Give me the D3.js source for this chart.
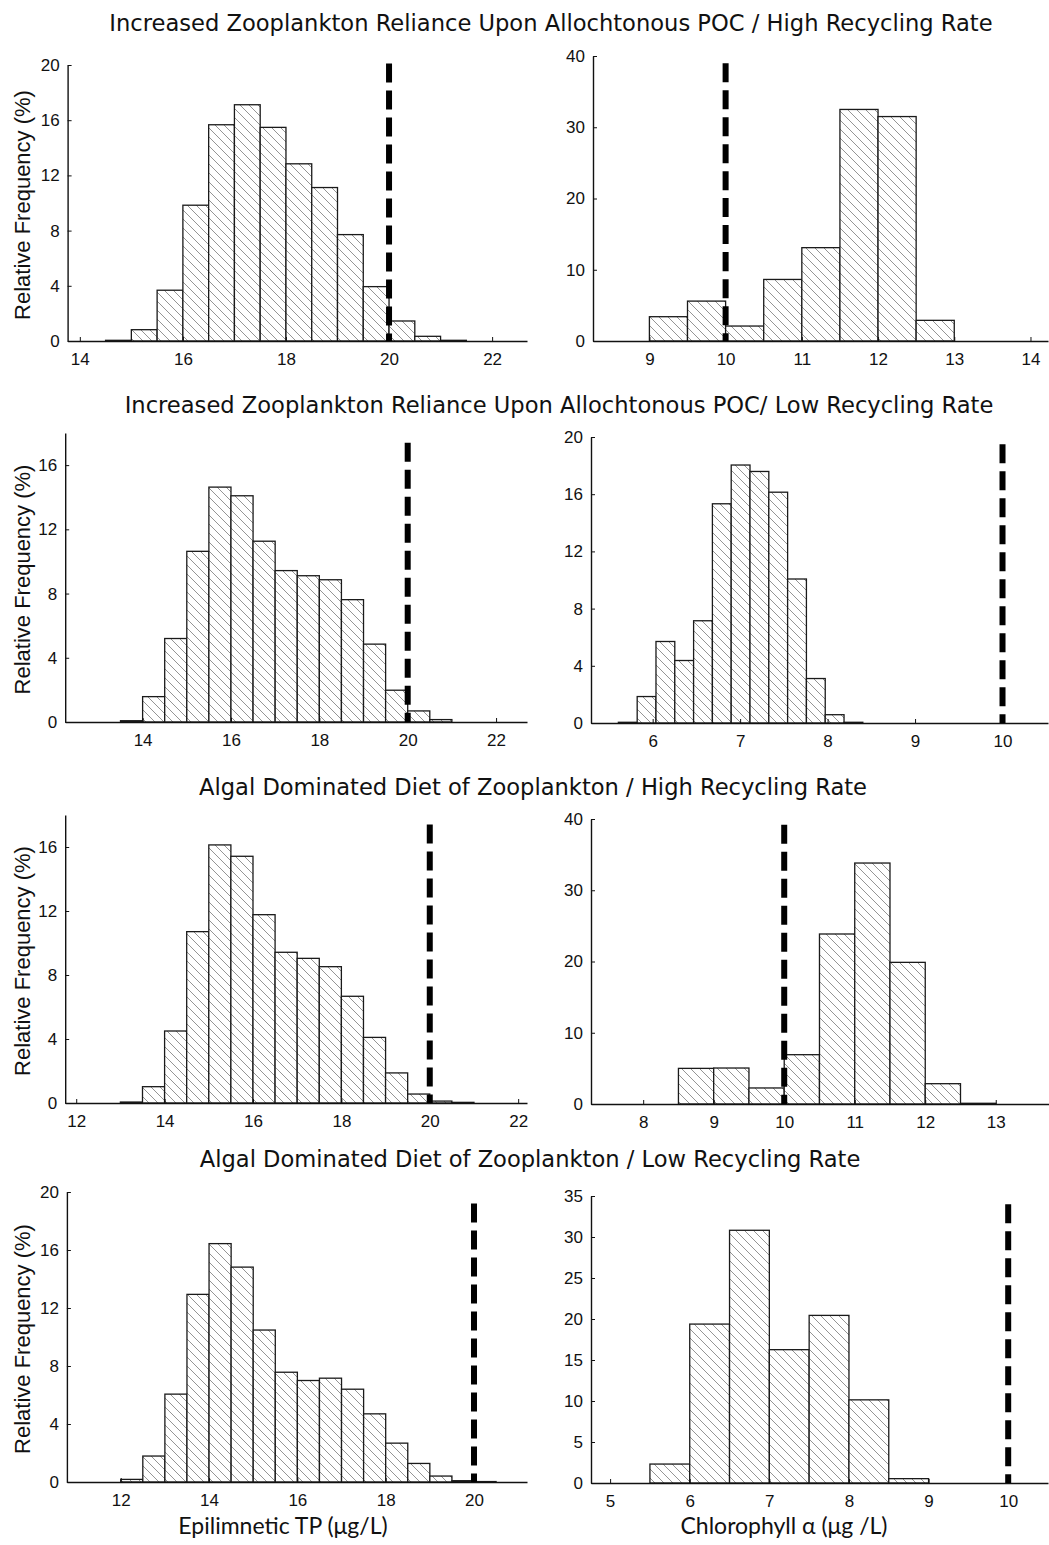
<!DOCTYPE html>
<html>
<head>
<meta charset="utf-8">
<script src="https://cdn.jsdelivr.net/npm/d3@7"></script>
<style>
  body { margin: 0; background: #fff; }
</style>
</head>
<body>
<div id="chart"></div>
<script>
// ---- data ----
const titles = [
  "Increased Zooplankton Reliance Upon Allochtonous POC / High Recycling Rate",
  "Increased Zooplankton Reliance Upon Allochtonous POC/ Low Recycling Rate",
  "Algal Dominated Diet of Zooplankton / High Recycling Rate",
  "Algal Dominated Diet of Zooplankton / Low Recycling Rate",
];
const xLabels = ["Epilimnetic TP (\u03bcg/L)", "Chlorophyll \u03b1 (\u03bcg /L)"];
const yLabel = "Relative Frequency (%)";

// relative frequency (%) per bin, bins start at binStart and are binWidth wide
const tpFreq1 = [0.05, 0.82, 3.68, 9.84, 15.67, 17.12, 15.48, 12.84, 11.12, 7.71, 3.94, 1.45, 0.34, 0.05];
const chlFreq1 = [3.41, 5.6, 2.1, 8.64, 13.1, 32.5, 31.5, 2.9];
const tpFreq2 = [0.08, 1.58, 5.2, 10.63, 14.63, 14.09, 11.26, 9.43, 9.11, 8.86, 7.62, 4.85, 1.98, 0.69, 0.15];
const chlFreq2 = [0.05, 1.85, 5.7, 4.37, 7.15, 15.33, 18.04, 17.59, 16.14, 10.07, 3.11, 0.58, 0.05];
const tpFreq3 = [0.06, 1.02, 4.5, 10.71, 16.13, 15.42, 11.77, 9.42, 9.04, 8.52, 6.67, 4.1, 1.88, 0.56, 0.12, 0.04];
const chlFreq3 = [5.0, 5.05, 2.25, 6.92, 23.86, 33.82, 19.88, 2.85, 0.1];
const tpFreq4 = [0.18, 1.79, 6.06, 12.94, 16.44, 14.82, 10.48, 7.57, 7.0, 7.16, 6.4, 4.7, 2.68, 1.28, 0.41, 0.09, 0.03];
const chlFreq4 = [2.31, 19.38, 30.82, 16.26, 20.44, 10.14, 0.53];

const binStart = [14.5, 9, 13.5, 5.608, 13, 8.5, 12, 5.5];
const binWidth = [0.5, 0.5, 0.5, 0.215, 0.5, 0.5, 0.5, 0.5];

// target concentrations (dashed lines) and how high each line reaches
const thresholds = [20, 10, 20, 10, 20, 10, 20, 10];
const lineTop = [20.1, 39, 17.4, 19.5, 17.4, 39.2, 19.2, 34];

// axis limits and ticks
const xLimits = [[13.763, 22.677], [8.26, 14.23], [12.248, 22.70], [5.295, 10.52],
                 [11.751, 22.20], [7.26, 13.755], [10.781, 21.20], [4.76, 10.5]];
const yMax = [20, 40, 18, 20, 18, 40, 20, 35];
const xTicks = [
  [14, 16, 18, 20, 22], [9, 10, 11, 12, 13, 14],
  [14, 16, 18, 20, 22], [6, 7, 8, 9, 10],
  [12, 14, 16, 18, 20, 22], [8, 9, 10, 11, 12, 13],
  [12, 14, 16, 18, 20], [5, 6, 7, 8, 9, 10],
];
const yTicks = [
  [0, 4, 8, 12, 16, 20], [0, 10, 20, 30, 40],
  [0, 4, 8, 12, 16], [0, 4, 8, 12, 16, 20],
  [0, 4, 8, 12, 16], [0, 10, 20, 30, 40],
  [0, 4, 8, 12, 16, 20], [0, 5, 10, 15, 20, 25, 30, 35],
];
const freqs = [tpFreq1, chlFreq1, tpFreq2, chlFreq2, tpFreq3, chlFreq3, tpFreq4, chlFreq4];

// ---- layout ----
const width = 1049, height = 1545;
const xRanges = [[67.6, 527], [593, 1048], [65.2, 527], [591, 1048],
                 [65.2, 527], [591, 1049], [66.9, 527], [591, 1048]];
const yRanges = [[341, 65], [341, 56], [722, 433], [723, 437],
                 [1103, 815], [1104, 819], [1482, 1192], [1483, 1196]];
const titlePos = [[551, 31], [559, 413], [533, 795], [530, 1167]];
const xLabelPos = [[283, 1534], [784, 1534]];
const tickFont = "'Liberation Sans', Arial, sans-serif";

const svg = d3.select("#chart")
  .append("svg")
  .attr("width", width)
  .attr("height", height);

/* diagonal hatch used for every bar */
const pattern = svg.append("defs")
  .append("pattern")
  .attr("id", "hatch")
  .attr("patternUnits", "userSpaceOnUse")
  .attr("width", 9)
  .attr("height", 9);
pattern.append("rect").attr("width", 9).attr("height", 9).attr("fill", "#fff");
pattern.append("path")
  .attr("d", "M0,0L9,9M-1,8L1,10M8,-1L10,1")
  .attr("stroke", "#7a7a7a")
  .attr("stroke-width", 0.8);

titles.forEach((t, i) => {
  svg.append("text")
    .attr("x", titlePos[i][0])
    .attr("y", titlePos[i][1])
    .attr("text-anchor", "middle")
    .style("font-family", "'DejaVu Sans', sans-serif")
    .style("font-size", "22.6px")
    .attr("fill", "#111")
    .text(t);
});

function styleAxis(a) {
  a.select(".domain").attr("stroke", "#111").attr("stroke-width", 1.4);
  a.selectAll(".tick line").attr("stroke", "#111");
  a.selectAll("text")
    .style("font-family", tickFont)
    .style("font-size", "17px")
    .attr("fill", "#111");
}

freqs.forEach((freq, i) => {
  const x = d3.scaleLinear().domain(xLimits[i]).range(xRanges[i]);
  const y = d3.scaleLinear().domain([0, yMax[i]]).range(yRanges[i]);
  const g = svg.append("g");

  const bins = freq.map((v, k) => ({
    x0: binStart[i] + k * binWidth[i],
    x1: binStart[i] + (k + 1) * binWidth[i],
    v,
  }));

  g.append("g")
    .selectAll("rect")
    .data(bins)
    .join("rect")
    .attr("x", (d) => x(d.x0))
    .attr("width", (d) => x(d.x1) - x(d.x0))
    .attr("y", (d) => y(d.v))
    .attr("height", (d) => y(0) - y(d.v))
    .attr("fill", "url(#hatch)")
    .attr("stroke", "#1a1a1a")
    .attr("stroke-width", 1.3);

  // x axis, ticks pointing inward like matlab
  g.append("g")
    .attr("transform", `translate(0, ${y(0)})`)
    .call(d3.axisBottom(x).tickValues(xTicks[i]).tickFormat(d3.format("d"))
      .tickSizeInner(-4).tickSizeOuter(0).tickPadding(12))
    .call(styleAxis);

  g.append("g")
    .attr("transform", `translate(${x.range()[0]}, 0)`)
    .call(d3.axisLeft(y).tickValues(yTicks[i]).tickFormat(d3.format("d"))
      .tickSizeInner(-4).tickSizeOuter(0).tickPadding(8))
    .call(styleAxis);

  // dashed target line
  g.append("line")
    .attr("x1", x(thresholds[i]))
    .attr("x2", x(thresholds[i]))
    .attr("y1", y(lineTop[i]))
    .attr("y2", y(0))
    .attr("stroke", "#000")
    .attr("stroke-width", 6)
    .attr("stroke-dasharray", "19,8");

  if (i % 2 === 0) {
    const yr = yRanges[i];
    g.append("text")
      .attr("transform", `translate(30, ${(yr[0] + yr[1]) / 2 + 2}) rotate(-90)`)
      .attr("text-anchor", "middle")
      .style("font-family", tickFont)
      .style("font-size", "22px")
      .attr("fill", "#111")
      .text(yLabel);
  }
});

xLabels.forEach((t, i) => {
  svg.append("text")
    .attr("x", xLabelPos[i][0])
    .attr("y", xLabelPos[i][1])
    .attr("text-anchor", "middle")
    .style("font-family", "Lato, sans-serif")
    .style("font-size", "23px")
    .attr("fill", "#111")
    .text(t);
});
</script>
</body>
</html>
